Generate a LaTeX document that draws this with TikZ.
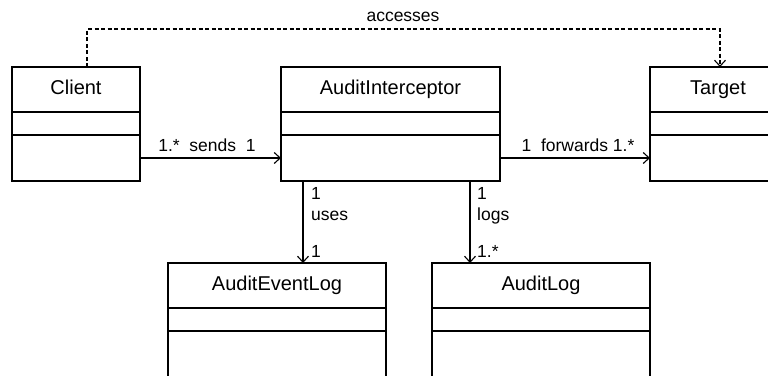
\documentclass[tikz,border=0pt]{standalone}
\usepackage{fontspec}
\setmainfont{Liberation Sans}
\usetikzlibrary{arrows.meta,calc}

\tikzset{
  comp/.style={draw, line width=1.4pt, inner sep=0pt, outer sep=0pt, anchor=north west},
  namecomp/.style={comp, minimum height=45pt, text height=14.5pt, text depth=4pt,
    font=\fontsize{20}{24}\selectfont},
  attrcomp/.style={comp, minimum height=23pt},
  opcomp/.style={comp, minimum height=46pt},
  assoc/.style={line width=1.1pt, -{Straight Barb[length=6pt,width=11pt,line width=1.1pt]}},
  depend/.style={assoc, dash pattern=on 4pt off 2.5pt},
  lbl/.style={font=\fontsize{17.5}{20}\selectfont, inner sep=0pt}
}

\begin{document}
\begin{tikzpicture}[x=1pt,y=-1pt]
  \useasboundingbox (0,0) rectangle (768,375);
  \clip (0,0) rectangle (768,375);
  \fill[white] (0,0) rectangle (768,375);

  % Client
  \node[namecomp, minimum width=128pt] (cl-n) at (12,67) {Client};
  \node[attrcomp, minimum width=128pt] (cl-a) at (cl-n.south west) {};
  \node[opcomp, minimum width=128pt] (cl-o) at (cl-a.south west) {};

  % AuditInterceptor
  \node[namecomp, minimum width=219pt] (ai-n) at (281,67) {AuditInterceptor};
  \node[attrcomp, minimum width=219pt] (ai-a) at (ai-n.south west) {};
  \node[opcomp, minimum width=219pt] (ai-o) at (ai-a.south west) {};

  % Target
  \node[namecomp, minimum width=136pt] (tg-n) at (650,67) {Target};
  \node[attrcomp, minimum width=136pt] (tg-a) at (tg-n.south west) {};
  \node[opcomp, minimum width=136pt] (tg-o) at (tg-a.south west) {};

  % AuditEventLog
  \node[namecomp, minimum width=218pt] (ael-n) at (168,263) {AuditEventLog};
  \node[attrcomp, minimum width=218pt] (ael-a) at (ael-n.south west) {};
  \node[opcomp, minimum width=218pt, minimum height=80pt] (ael-o) at (ael-a.south west) {};

  % AuditLog
  \node[namecomp, minimum width=218pt] (al-n) at (432,263) {AuditLog};
  \node[attrcomp, minimum width=218pt] (al-a) at (al-n.south west) {};
  \node[opcomp, minimum width=218pt, minimum height=80pt] (al-o) at (al-a.south west) {};

  % sends
  \draw[assoc] (cl-o.east) -- (ai-o.west);
  \node[lbl] (sends) at (207,145) {1.*\ \ sends\ \ 1};

  % forwards
  \draw[assoc] (ai-o.east) -- (tg-o.west);
  \node[lbl] (fwd) at (578,145) {1\ \ forwards 1.*};

  % accesses
  \coordinate (acc-s) at ($(cl-n.north west)+(75,0)$);
  \coordinate (acc-e) at ($(tg-n.north)+(2,0)$);
  \draw[depend] (acc-s) -- ++(0,-38) -| (acc-e);
  \node[lbl] (acc) at (403,17) {accesses};

  % uses
  \coordinate (uses-s) at ($(ai-o.south west)+(22,0)$);
  \draw[assoc] (uses-s) -- (uses-s |- ael-n.north);
  \node[lbl, anchor=west] (uses-a) at (311,193) {1};
  \node[lbl, anchor=west] (uses-l) at (311,216) {uses};
  \node[lbl, anchor=west] (uses-b) at (311,251) {1};

  % logs
  \coordinate (logs-s) at ($(ai-o.south west)+(189,0)$);
  \draw[assoc] (logs-s) -- (logs-s |- al-n.north);
  \node[lbl, anchor=west] (logs-a) at (477,193) {1};
  \node[lbl, anchor=west] (logs-l) at (477,216) {logs};
  \node[lbl, anchor=west] (logs-b) at (477,251) {1.*};
\end{tikzpicture}
\end{document}
